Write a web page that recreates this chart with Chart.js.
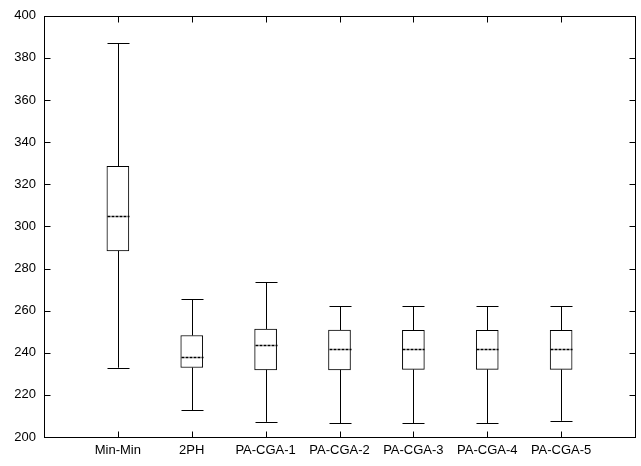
<!DOCTYPE html>
<html>
<head>
<meta charset="utf-8">
<script src="https://cdn.jsdelivr.net/npm/chart.js@4/dist/chart.umd.min.js"></script>
<style>
html,body{margin:0;padding:0;background:#fff;}
#wrap{width:641px;height:466px;position:relative;}
</style>
</head>
<body>
<div id="wrap"><canvas id="c" width="641" height="466"></canvas></div>
<script>
const categories = ['Min-Min','2PH','PA-CGA-1','PA-CGA-2','PA-CGA-3','PA-CGA-4','PA-CGA-5'];
const mins    = [232.9, 212.8, 207.2, 206.6, 206.6, 206.6, 207.7];
const q1s     = [288.4, 233.0, 231.9, 231.9, 232.1, 232.1, 232.1];
const medians = [304.8, 238.2, 243.8, 241.8, 241.6, 241.6, 241.6];
const q3s     = [328.5, 248.2, 251.3, 250.8, 250.7, 250.7, 250.7];
const maxs    = [386.9, 265.3, 273.4, 262.1, 262.1, 262.1, 262.1];
const yTicks  = [200,220,240,260,280,300,320,340,360,380,400];

const BOX_W = 22;
const TICK_LEN = 6;

const boxPlugin = {
  id: 'boxExtras',
  afterDatasetsDraw(chart) {
    const ctx = chart.ctx;
    const xs = chart.scales.x, ys = chart.scales.y;
    const a = chart.chartArea;
    ctx.save();
    ctx.strokeStyle = '#000';
    ctx.lineWidth = 1;
    const r = v => Math.round(v) + 0.5;
    for (let i = 0; i < categories.length; i++) {
      const cx = r(xs.getPixelForValue(i + 1));
      const yMin = ys.getPixelForValue(mins[i]);
      const yQ1 = ys.getPixelForValue(q1s[i]);
      const yQ3 = ys.getPixelForValue(q3s[i]);
      const yMax = ys.getPixelForValue(maxs[i]);
      const yMed = r(ys.getPixelForValue(medians[i]));
      ctx.setLineDash([]);
      ctx.beginPath();
      ctx.moveTo(cx, yMin); ctx.lineTo(cx, yQ1);
      ctx.moveTo(cx, yQ3); ctx.lineTo(cx, yMax);
      ctx.moveTo(cx - BOX_W/2, r(yMin)); ctx.lineTo(cx + BOX_W/2, r(yMin));
      ctx.moveTo(cx - BOX_W/2, r(yMax)); ctx.lineTo(cx + BOX_W/2, r(yMax));
      ctx.stroke();
      ctx.setLineDash([3, 1]);
      ctx.lineWidth = 1.3;
      ctx.beginPath();
      ctx.moveTo(cx - BOX_W/2, yMed); ctx.lineTo(cx + BOX_W/2, yMed);
      ctx.stroke();
      ctx.lineWidth = 1;
    }
    ctx.setLineDash([]);
    // frame
    const L = r(a.left), R = r(a.right), T = r(a.top), B = r(a.bottom);
    ctx.strokeRect(L, T, R - L, B - T);
    // inward ticks
    ctx.beginPath();
    yTicks.forEach(v => {
      const y = r(ys.getPixelForValue(v));
      ctx.moveTo(L, y); ctx.lineTo(L + TICK_LEN, y);
      ctx.moveTo(R, y); ctx.lineTo(R - TICK_LEN, y);
    });
    for (let i = 0; i < categories.length; i++) {
      const x = r(xs.getPixelForValue(i + 1));
      ctx.moveTo(x, B); ctx.lineTo(x, B - TICK_LEN);
      ctx.moveTo(x, T); ctx.lineTo(x, T + TICK_LEN);
    }
    ctx.stroke();
    ctx.restore();
  }
};

Chart.defaults.font.family = '"Liberation Sans", Arial, sans-serif';
Chart.defaults.font.size = 13;
Chart.defaults.color = '#000';

new Chart(document.getElementById('c'), {
  type: 'bar',
  data: {
    datasets: [{
      data: categories.map((c, i) => ({ x: i + 1, y: [q1s[i], q3s[i]] })),
      backgroundColor: '#fff',
      borderColor: '#000',
      borderWidth: 1,
      borderSkipped: false,
      barThickness: BOX_W
    }]
  },
  options: {
    responsive: false,
    animation: false,
    devicePixelRatio: 1,
    layout: { padding: { left: 0, right: 6, top: 11, bottom: 0 } },
    plugins: { legend: { display: false }, tooltip: { enabled: false } },
    scales: {
      x: {
        type: 'linear',
        offset: false,
        min: 0, max: 8,
        grid: { display: false, drawTicks: false, offset: false },
        border: { display: false },
        afterFit(s) { s.height = 29; },
        afterBuildTicks(s) { s.ticks = categories.map((c, i) => ({ value: i + 1 })); },
        ticks: {
          padding: 6,
          maxRotation: 0,
          autoSkip: false,
          callback: (v) => categories[v - 1] || ''
        }
      },
      y: {
        min: 200, max: 400,
        grid: { display: false, drawTicks: false },
        border: { display: false },
        afterFit(s) { s.width = 44; },
        afterBuildTicks(s) { s.ticks = yTicks.map(v => ({ value: v })); },
        ticks: { padding: 8 }
      }
    }
  },
  plugins: [boxPlugin]
});
</script>
</body>
</html>
